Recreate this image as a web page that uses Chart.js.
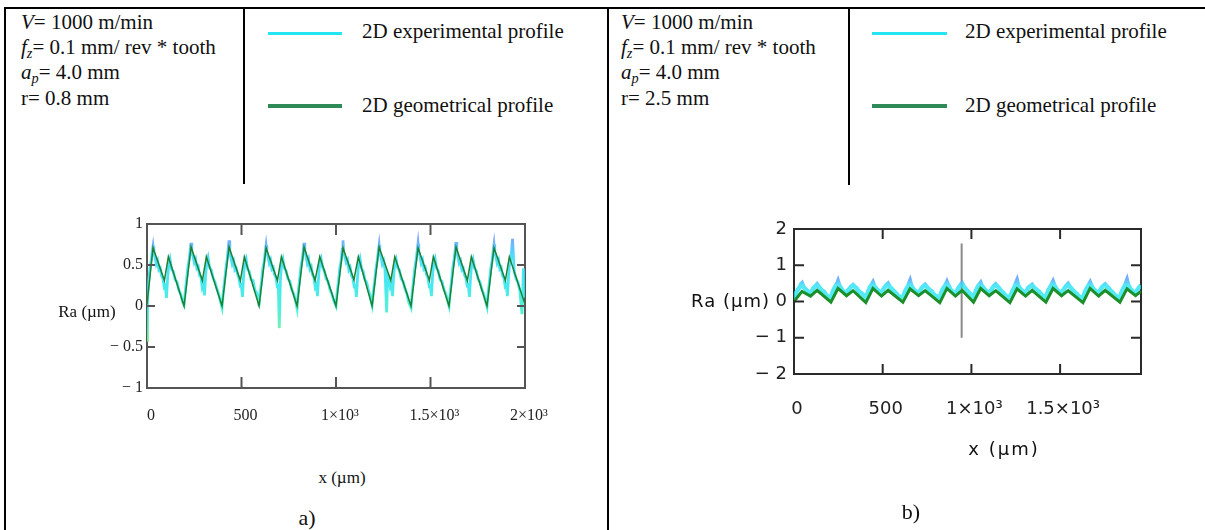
<!DOCTYPE html>
<html>
<head>
<meta charset="utf-8">
<script src="https://cdn.jsdelivr.net/npm/chart.js@4.4.1/dist/chart.umd.min.js"></script>
<style>
html,body{margin:0;padding:0;background:#fff;}
#page{position:relative;width:1205px;height:530px;overflow:hidden;background:#fff;
  font-family:'Liberation Serif','Times New Roman',serif;color:#111;}
.rule{position:absolute;background:#000;}
.params{position:absolute;font-size:21px;line-height:25.2px;white-space:nowrap;}
.params sub{font-size:0.68em;line-height:0;vertical-align:-0.3em;}
.key{position:absolute;}
.keytext{position:absolute;font-size:21px;line-height:25.2px;white-space:nowrap;}
.cap{position:absolute;white-space:nowrap;line-height:1;transform:translate(-50%,-50%);}
.box{position:absolute;}
</style>
</head>
<body>
<div id="page">
  <!-- table rules -->
  <div class="rule" style="left:4px;top:7px;width:1201px;height:2px"></div>
  <div class="rule" style="left:4px;top:7px;width:2px;height:523px"></div>
  <div class="rule" style="left:607px;top:7px;width:2px;height:523px"></div>
  <div class="rule" style="left:243px;top:7px;width:2px;height:177px"></div>
  <div class="rule" style="left:848px;top:7px;width:2px;height:178px"></div>

  <!-- panel a header -->
  <div class="params" style="left:21px;top:10px">
    <i>V</i>= 1000 m/min<br>
    <i>f</i><sub><i>z</i></sub>= 0.1 mm/ rev * tooth<br>
    <i>a</i><sub><i>p</i></sub>= 4.0 mm<br>
    r= 0.8 mm
  </div>
  <div class="key" style="left:268px;top:32px;width:74px;height:3px;background:#25e5f3"></div>
  <div class="keytext" style="left:362px;top:19px">2D experimental profile</div>
  <div class="key" style="left:268px;top:104px;width:74px;height:4px;background:#2e8b57"></div>
  <div class="keytext" style="left:362px;top:93px">2D geometrical profile</div>

  <!-- panel b header -->
  <div class="params" style="left:621px;top:10px">
    <i>V</i>= 1000 m/min<br>
    <i>f</i><sub><i>z</i></sub>= 0.1 mm/ rev * tooth<br>
    <i>a</i><sub><i>p</i></sub>= 4.0 mm<br>
    r= 2.5 mm
  </div>
  <div class="key" style="left:872px;top:32px;width:75px;height:3px;background:#25e5f3"></div>
  <div class="keytext" style="left:965px;top:19px">2D experimental profile</div>
  <div class="key" style="left:872px;top:104px;width:75px;height:4px;background:#2e8b57"></div>
  <div class="keytext" style="left:965px;top:93px">2D geometrical profile</div>

  <!-- charts -->
  <div class="box" style="left:0;top:200px;width:600px;height:240px"><canvas id="chartA" width="600" height="240"></canvas></div>
  <div class="box" style="left:600px;top:200px;width:605px;height:240px"><canvas id="chartB" width="605" height="240"></canvas></div>

  <!-- axis captions -->
  <div class="cap" style="left:87px;top:311px;font-size:17px">Ra (µm)</div>
  <div class="cap" style="left:342px;top:477px;font-size:17px">x (µm)</div>
  <div class="cap" style="left:307px;top:518px;font-size:22px">a)</div>
  <div class="cap" style="left:770px;top:301px;font-size:18px;letter-spacing:1px;font-family:'DejaVu Sans',sans-serif;transform:translate(-100%,-50%)">Ra (µm)</div>
  <div class="cap" style="left:1004px;top:449px;font-size:18px;letter-spacing:2px;font-family:'DejaVu Sans',sans-serif">x (µm)</div>
  <div class="cap" style="left:911px;top:512px;font-size:22px">b)</div>
</div>

<script>
// ---- panel a) r = 0.8 mm ----
const xTicksA = [0, 500, 1000, 1500, 2000];
const xLabelsA = ['0', '500', '1×10³', '1.5×10³', '2×10³'];
const yTicksA = [-1, -0.5, 0, 0.5, 1];
const yLabelsA = ['− 1', '− 0.5', '0', '0.5', '1'];

// geometrical profile (vertices of the sawtooth)
const geoA = [
  [0,0.02],[32,0.71],[92,0.31],[113,0.60],[196,0.00],
  [233,0.72],[293,0.31],[314,0.60],[397,0.00],
  [434,0.72],[494,0.31],[515,0.60],[593,0.00],
  [630,0.71],[690,0.31],[711,0.60],[794,0.00],
  [831,0.72],[889,0.31],[914,0.60],[1000,0.00],
  [1037,0.71],[1095,0.32],[1118,0.60],[1191,0.00],
  [1228,0.72],[1290,0.31],[1311,0.60],[1397,0.00],
  [1434,0.71],[1494,0.31],[1515,0.60],[1598,0.00],
  [1635,0.72],[1695,0.31],[1716,0.60],[1799,0.00],
  [1836,0.71],[1896,0.31],[1917,0.60],[2000,0.02]
];

// experimental profile (measured trace), one row per feed period
const expA = [
  [0,-0.42],[3,0.05],[8,0.28],[15,0.45],[22,0.55],[28,0.67],[32,0.73],[36,0.65],[42,0.60],[49,0.51],[56,0.55],[63,0.44],[70,0.46],[77,0.37],[84,0.34],[91,0.23],[97,0.25],[103,0.10],[109,0.34],[115,0.50],[122,0.57],[130,0.45],[139,0.42],[149,0.32],[159,0.29],[169,0.19],[179,0.14],[188,0.05],
  [196,0.01],[202,0.17],[209,0.31],[216,0.47],[223,0.56],[229,0.69],[233,0.77],[237,0.65],[243,0.61],[250,0.53],[257,0.57],[264,0.46],[271,0.48],[278,0.37],[285,0.36],[292,0.23],[298,0.27],[304,0.13],[310,0.37],[316,0.53],[323,0.59],[331,0.47],[340,0.44],[350,0.34],[360,0.29],[370,0.21],[380,0.14],[389,0.05],
  [397,-0.02],[403,0.15],[410,0.29],[417,0.45],[424,0.57],[430,0.70],[434,0.80],[438,0.64],[444,0.59],[451,0.51],[458,0.55],[465,0.44],[472,0.46],[479,0.39],[486,0.34],[493,0.25],[499,0.26],[505,0.11],[511,0.36],[517,0.54],[524,0.58],[532,0.45],[541,0.42],[551,0.32],[561,0.31],[571,0.19],[581,0.16],[590,0.07],
  [593,0.00],[599,0.17],[606,0.30],[613,0.46],[620,0.54],[626,0.67],[630,0.74],[634,0.66],[640,0.60],[647,0.52],[654,0.56],[661,0.45],[668,0.47],[675,0.38],[682,0.35],[689,0.24],[695,0.25],[700,-0.27],[706,0.33],[712,0.51],[719,0.57],[727,0.46],[736,0.43],[746,0.33],[756,0.30],[766,0.20],[776,0.15],[786,0.06],
  [794,-0.03],[800,0.16],[807,0.31],[814,0.47],[821,0.56],[827,0.68],[831,0.77],[835,0.67],[841,0.61],[848,0.52],[855,0.57],[862,0.45],[869,0.48],[876,0.38],[883,0.35],[890,0.23],[896,0.26],[902,0.12],[908,0.36],[914,0.53],[921,0.58],[929,0.47],[938,0.43],[948,0.33],[958,0.30],[968,0.20],[978,0.15],[987,0.07],
  [1000,0.00],[1006,0.17],[1013,0.30],[1020,0.46],[1027,0.55],[1033,0.69],[1037,0.80],[1041,0.65],[1047,0.60],[1054,0.53],[1061,0.56],[1068,0.44],[1075,0.47],[1082,0.37],[1089,0.34],[1096,0.24],[1102,0.25],[1108,0.11],[1114,0.35],[1120,0.52],[1127,0.58],[1135,0.46],[1144,0.42],[1153,0.32],[1162,0.29],[1171,0.20],[1179,0.14],[1186,0.06],
  [1191,0.01],[1197,0.16],[1204,0.29],[1211,0.45],[1218,0.55],[1224,0.67],[1228,0.74],[1232,0.64],[1238,0.60],[1245,0.51],[1252,0.55],[1259,0.45],[1268,-0.08],[1273,0.38],[1280,0.34],[1287,0.23],[1293,0.26],[1299,0.12],[1305,0.36],[1311,0.52],[1318,0.57],[1326,0.47],[1335,0.44],[1345,0.33],[1355,0.30],[1365,0.21],[1375,0.15],[1384,0.05],
  [1397,-0.02],[1403,0.16],[1410,0.31],[1417,0.46],[1424,0.56],[1430,0.68],[1434,0.76],[1438,0.66],[1444,0.61],[1451,0.52],[1458,0.56],[1465,0.45],[1472,0.47],[1479,0.38],[1486,0.35],[1493,0.24],[1499,0.25],[1505,0.12],[1511,0.37],[1517,0.53],[1524,0.58],[1532,0.46],[1541,0.43],[1551,0.32],[1561,0.30],[1571,0.20],[1581,0.15],[1590,0.07],
  [1598,0.00],[1604,0.15],[1611,0.30],[1618,0.47],[1625,0.57],[1631,0.69],[1635,0.78],[1639,0.65],[1645,0.60],[1652,0.52],[1659,0.55],[1666,0.44],[1673,0.46],[1680,0.38],[1687,0.34],[1694,0.25],[1700,0.26],[1706,0.11],[1712,0.35],[1718,0.52],[1725,0.57],[1733,0.46],[1742,0.43],[1752,0.33],[1762,0.29],[1772,0.20],[1782,0.14],[1791,0.06],
  [1799,-0.01],[1805,0.16],[1812,0.30],[1819,0.46],[1826,0.55],[1832,0.68],[1836,0.75],[1840,0.65],[1846,0.60],[1853,0.52],[1860,0.56],[1867,0.45],[1874,0.47],[1881,0.37],[1888,0.35],[1895,0.24],[1901,0.26],[1907,0.12],[1913,0.37],[1919,0.53],[1926,0.58],[1934,0.82],[1943,0.42],[1953,0.33],[1963,0.29],[1973,0.18],[1984,-0.10],[1992,0.46],[2000,0.10]
];

// ---- panel b) r = 2.5 mm ----
const xTicksB = [0, 500, 1000, 1500];
const xLabelsB = ['0', '500', '1×10³', '1.5×10³'];
const xMaxB = 1956;
const yTicksB = [-2, -1, 0, 1, 2];
const yLabelsB = ['− 2', '− 1', '0', '1', '2'];

const geoB = [
  [0,0.00],[45,0.28],[93,0.15],[130,0.31],[208,-0.02],
  [248,0.36],[296,0.16],[333,0.30],[405,-0.03],
  [445,0.36],[493,0.15],[530,0.31],[614,-0.02],
  [654,0.35],[702,0.16],[739,0.30],[822,-0.03],
  [862,0.36],[910,0.15],[947,0.31],[1012,-0.02],
  [1052,0.36],[1100,0.16],[1137,0.30],[1217,-0.03],
  [1257,0.35],[1305,0.15],[1342,0.31],[1420,-0.02],
  [1460,0.36],[1508,0.16],[1545,0.30],[1629,-0.03],
  [1669,0.36],[1717,0.15],[1754,0.31],[1837,-0.02],
  [1877,0.35],[1925,0.16],[1956,0.28]
];

const expB = [
  [0,0.05],[10,0.22],[19,0.30],[26,0.36],[33,0.40],[39,0.47],[45,0.50],[51,0.43],[57,0.38],[65,0.34],[73,0.30],[83,0.24],[93,0.20],[101,0.29],[109,0.37],[120,0.42],[130,0.47],[140,0.41],[149,0.35],[159,0.30],[169,0.27],[179,0.20],[189,0.15],[198,0.12],
  [208,0.10],[215,0.22],[222,0.31],[229,0.38],[236,0.44],[242,0.48],[248,0.55],[254,0.46],[260,0.41],[268,0.34],[276,0.29],[286,0.27],[296,0.23],[304,0.30],[312,0.35],[322,0.41],[333,0.45],[342,0.41],[352,0.37],[362,0.30],[372,0.25],[382,0.22],[392,0.17],[399,0.13],
  [405,0.09],[412,0.20],[419,0.29],[426,0.37],[433,0.43],[439,0.47],[445,0.52],[451,0.44],[457,0.39],[465,0.35],[473,0.31],[483,0.25],[493,0.21],[501,0.31],[509,0.38],[519,0.44],[530,0.49],[539,0.41],[549,0.36],[559,0.31],[569,0.26],[579,0.21],[589,0.15],[601,0.13],
  [614,0.11],[621,0.21],[628,0.30],[635,0.36],[642,0.41],[648,0.49],[654,0.56],[660,0.45],[666,0.40],[674,0.33],[682,0.30],[692,0.26],[702,0.22],[710,0.29],[718,0.36],[728,0.42],[739,0.46],[748,0.41],[758,0.35],[768,0.31],[778,0.27],[788,0.20],[798,0.16],[810,0.13],
  [822,0.10],[829,0.23],[836,0.32],[843,0.37],[850,0.42],[856,0.47],[862,0.53],[868,0.46],[874,0.42],[882,0.33],[890,0.29],[900,0.24],[910,0.20],[918,0.29],[926,0.37],[936,0.44],[947,0.50],[956,0.42],[966,0.36],[976,0.30],[986,0.25],[993,0.21],[1000,0.17],[1006,0.12],
  [1012,0.09],[1019,0.21],[1026,0.30],[1033,0.38],[1040,0.44],[1046,0.47],[1052,0.51],[1058,0.44],[1064,0.40],[1072,0.35],[1080,0.31],[1090,0.26],[1100,0.23],[1108,0.28],[1116,0.35],[1126,0.42],[1137,0.47],[1146,0.42],[1156,0.37],[1166,0.30],[1176,0.26],[1187,0.20],[1198,0.14],[1208,0.12],
  [1217,0.10],[1224,0.20],[1231,0.29],[1238,0.36],[1245,0.42],[1251,0.50],[1257,0.57],[1263,0.45],[1269,0.39],[1277,0.34],[1285,0.30],[1295,0.25],[1305,0.21],[1313,0.31],[1321,0.38],[1331,0.42],[1342,0.46],[1351,0.40],[1361,0.35],[1371,0.31],[1381,0.27],[1391,0.21],[1401,0.16],[1411,0.13],
  [1420,0.11],[1427,0.22],[1434,0.31],[1441,0.37],[1448,0.43],[1454,0.48],[1460,0.54],[1466,0.46],[1472,0.41],[1480,0.34],[1488,0.29],[1498,0.26],[1508,0.22],[1516,0.30],[1524,0.36],[1534,0.43],[1545,0.48],[1554,0.41],[1564,0.36],[1574,0.30],[1584,0.25],[1594,0.21],[1604,0.15],[1617,0.12],
  [1629,0.09],[1636,0.21],[1643,0.30],[1650,0.36],[1657,0.41],[1663,0.47],[1669,0.52],[1675,0.45],[1681,0.40],[1689,0.34],[1697,0.31],[1707,0.24],[1717,0.20],[1725,0.30],[1733,0.37],[1743,0.43],[1754,0.47],[1763,0.42],[1773,0.37],[1783,0.31],[1793,0.26],[1803,0.21],[1813,0.16],[1825,0.12],
  [1837,0.10],[1844,0.22],[1851,0.31],[1858,0.38],[1865,0.44],[1871,0.50],[1877,0.58],[1883,0.47],[1889,0.41],[1897,0.34],[1905,0.30],[1915,0.26],[1925,0.22],[1933,0.30],[1941,0.36],[1949,0.41],[1956,0.44]
];

// vertical cursor line in plot b
const cursorB = [[945,1.6],[945,-1.0]];

// inward tick marks, placed with the chart's own scales
const innerTicks = {
  id: 'innerTicks',
  afterDraw(chart, args, o) {
    const {ctx, chartArea: ca, scales: {x, y}} = chart;
    ctx.save();
    ctx.strokeStyle = o.color;
    ctx.lineWidth = o.width;
    ctx.beginPath();
    o.xs.forEach(v => {
      const p = x.getPixelForValue(v);
      ctx.moveTo(p, ca.bottom); ctx.lineTo(p, ca.bottom - o.xLen);
      ctx.moveTo(p, ca.top); ctx.lineTo(p, ca.top + o.xLen);
    });
    o.ys.forEach(v => {
      const p = y.getPixelForValue(v);
      ctx.moveTo(ca.left, p); ctx.lineTo(ca.left + o.yLen, p);
      ctx.moveTo(ca.right, p); ctx.lineTo(ca.right - o.yLen, p);
    });
    ctx.stroke();
    ctx.restore();
  }
};

function inner(ticks){ return ticks.slice(1, -1); }

// vertical colour gradient for the measured trace (blue tint at the crests)
function shade(stops, fallback) {
  return c => {
    const chart = c.chart, ys = chart.scales.y;
    if (!chart.chartArea || !ys) return fallback;
    const top = ys.getPixelForValue(ys.max), bot = ys.getPixelForValue(ys.min);
    const g = chart.ctx.createLinearGradient(0, top, 0, bot);
    stops.forEach(([v, col]) => g.addColorStop((ys.getPixelForValue(v) - top) / (bot - top), col));
    return g;
  };
}

function plot(id, o) {
  const frame = { display: true, color: o.axisColor, width: 2 };
  const off = { display: false, drawTicks: false };
  return new Chart(document.getElementById(id), {
    type: 'line',
    data: {
      datasets: o.series.map(s => ({
        data: s.data, borderColor: s.color, borderWidth: s.width,
        pointRadius: 0, tension: 0, fill: false
      }))
    },
    options: {
      responsive: false, animation: false, events: [],
      layout: { padding: o.pad },
      plugins: {
        legend: { display: false }, tooltip: { enabled: false },
        innerTicks: { color: o.axisColor, width: 2, xs: o.tickX, ys: o.tickY, xLen: o.xLen, yLen: o.yLen }
      },
      scales: {
        x: {
          type: 'linear', position: 'bottom', min: o.xMin, max: o.xMax,
          grid: off, border: frame,
          afterBuildTicks: s => { s.ticks = o.xTicks.map(v => ({ value: v })); },
          afterFit: s => { s.height = o.xH; },
          ticks: {
            autoSkip: false, maxRotation: 0, padding: o.xPad, labelOffset: o.xOffset,
            color: '#222', font: o.font,
            callback: v => o.xLabels[o.xTicks.indexOf(v)]
          }
        },
        x2: {
          type: 'linear', position: 'top', min: o.xMin, max: o.xMax,
          grid: off, border: frame, ticks: { display: false },
          afterFit: s => { s.height = 0; }
        },
        y: {
          type: 'linear', position: 'left', min: o.yMin, max: o.yMax,
          grid: off, border: frame,
          afterBuildTicks: s => { s.ticks = o.yTicks.map(v => ({ value: v })); },
          afterFit: s => { s.width = o.yW; },
          ticks: {
            padding: o.yPad, color: '#222', font: o.font,
            callback: v => o.yLabels[o.yTicks.indexOf(v)]
          }
        },
        y2: {
          type: 'linear', position: 'right', min: o.yMin, max: o.yMax,
          grid: off, border: frame, ticks: { display: false },
          afterFit: s => { s.width = 0; }
        }
      }
    },
    plugins: [innerTicks]
  });
}

plot('chartA', {
  series: [
    { data: geoA, color: '#1d8233', width: 1.5 },
    { data: expA, width: 2.8,
      color: shade([[0.85,'rgba(110,150,255,0.9)'],[0.62,'rgba(50,215,248,0.85)'],[0.3,'rgba(40,228,240,0.85)'],[-0.05,'rgba(50,238,210,0.85)'],[-0.4,'rgba(120,240,150,0.9)']], '#28e1f0') }
  ],
  pad: { left: 0, top: 24, right: 75, bottom: 0 },
  xMin: 0, xMax: 2000, yMin: -1, yMax: 1,
  xTicks: xTicksA, xLabels: xLabelsA, yTicks: yTicksA, yLabels: yLabelsA,
  tickX: inner(xTicksA), tickY: inner(yTicksA), xLen: 11, yLen: 8,
  xH: 52, yW: 147, xPad: 18, yPad: 4, xOffset: 4,
  axisColor: '#555',
  font: { family: "'Liberation Serif', serif", size: 16 }
});

plot('chartB', {
  series: [
    { data: geoB, color: '#1b8f2a', width: 3 },
    { data: expB, width: 4.5,
      color: shade([[0.62,'rgba(90,160,255,0.85)'],[0.45,'rgba(40,225,245,0.8)'],[0,'rgba(40,232,238,0.8)']], '#28e4f2') },
    { data: cursorB, color: '#8a8a8a', width: 2 }
  ],
  pad: { left: 0, top: 29, right: 64, bottom: 0 },
  xMin: 0, xMax: xMaxB, yMin: -2, yMax: 2,
  xTicks: xTicksB, xLabels: xLabelsB, yTicks: yTicksB, yLabels: yLabelsB,
  tickX: xTicksB.slice(1), tickY: inner(yTicksB), xLen: 10, yLen: 10,
  xH: 66, yW: 194, xPad: 25, yPad: 7, xOffset: 3,
  axisColor: '#2a2a2a',
  font: { family: "'DejaVu Sans', sans-serif", size: 18 }
});
</script>
</body>
</html>
